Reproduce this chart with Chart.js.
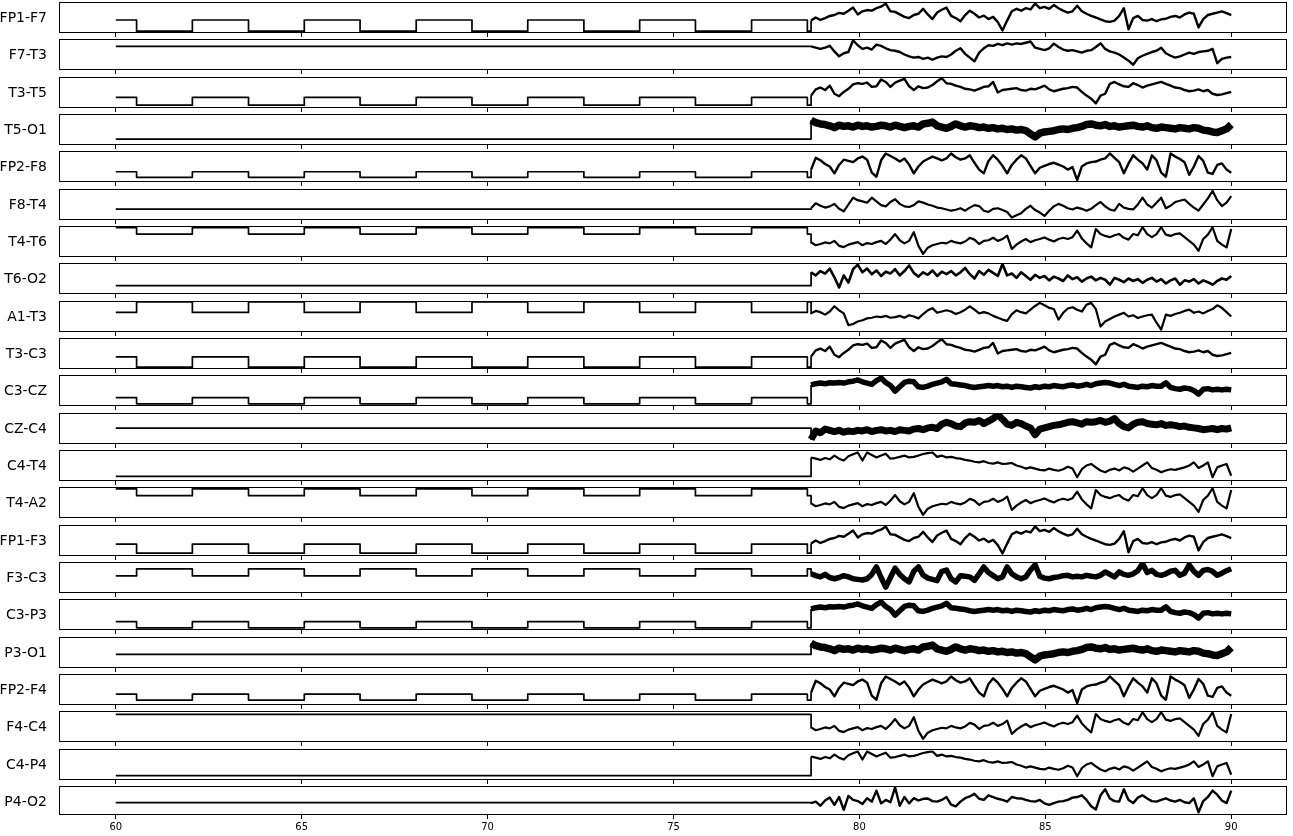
<!DOCTYPE html>
<html><head><meta charset="utf-8">
<script src="https://cdn.jsdelivr.net/npm/chart.js@4.4.0/dist/chart.umd.min.js"></script>
<style>
html,body{margin:0;padding:0;background:#fff;overflow:hidden;width:1293px;height:836px;}
#wrap{position:relative;width:1293px;height:836px;}
canvas{position:absolute;left:0;}
.lbl{position:absolute;left:-40px;width:87px;height:31px;line-height:31px;text-align:right;font-family:"DejaVu Sans";font-size:14px;color:#000;white-space:nowrap;}
</style></head><body><div id="wrap"></div>
<script>
// ---------------- data ----------------
const channelNames = ["FP1-F7","F7-T3","T3-T5","T5-O1","FP2-F8","F8-T4","T4-T6","T6-O2","A1-T3","T3-C3","C3-CZ","CZ-C4","C4-T4","T4-A2","FP1-F3","F3-C3","C3-P3","P3-O1","FP2-F4","F4-C4","C4-P4","P4-O2"];
const tickValues = [60,65,70,75,80,85,90];
const xRange = [58.5, 91.5];
// calibration square wave: switching times (s), level of first and alternate state (% of panel)
const calTimes = [60,60.56,62.06,63.57,65.07,66.57,68.08,69.58,71.08,72.59,74.09,75.59,77.1,78.6];
const calFirst  = [42,76,34,19,33,35,95,27,63,39,27,51,15,94,38,55,27,44,35,89,14,43];
const calSecond = [ 6,76, 9,19,15,35,74,27,97, 6, 7,51,15,72, 9,78, 7,44,16,89,14,43];
const eegStart = 78.7, eegEnd = 90.0;
// apparent trace thickness (px) of the dense EEG part of each channel
const traceWidth = [2.4,2.4,2.4,7.5,2.4,2.2,2.2,2.6,2.2,2.4,5.5,7,2.2,2.2,2.4,5.5,5.5,7.5,2.4,2.2,2.2,2.4];

const eeg_FP1_F7 = [40,50,42,48,55,58,65,62,72,82, 60,70,74,72,80,85,95,70,68,60, 52,48,58,62,78,60,45,66,75,82, 55,48,38,58,72,62,50,56,45,52, 35,8,40,70,78,72,80,76,95,80, 84,78,90,80,72,66,70,88,70,62, 55,50,44,38,36,40,55,80,12,48, 55,42,40,45,38,44,46,52,55,50, 60,66,62,18,45,58,62,66,70,64, 58];
const eeg_F7_T3 = [76,72,68,72,78,60,44,54,58,96, 80,68,72,66,82,78,70,64,62,58, 50,44,40,42,36,40,33,40,44,42, 50,62,70,52,40,28,56,70,80,78, 84,80,86,82,86,84,88,92,72,68, 64,70,85,74,66,62,64,60,56,62, 64,74,86,68,60,56,50,40,30,17, 38,46,52,58,62,72,54,46,40,44, 50,56,52,58,60,62,68,22,36,40, 42];
const eeg_T3_T5 = [40,60,66,58,72,46,38,52,62,76, 80,78,82,68,70,92,84,68,82,88, 94,70,58,70,64,66,74,86,96,80, 78,72,68,62,60,56,62,68,70,84, 50,58,60,62,64,58,56,62,60,66, 72,60,54,58,62,64,68,66,52,40, 30,15,40,46,78,84,76,70,68,80, 74,66,72,76,80,84,78,72,66,64, 58,54,56,60,54,58,46,42,44,48, 52];
const eeg_T5_O1 = [80,72,68,66,62,56,64,60,62,58, 64,60,62,58,60,64,62,58,64,60, 56,60,62,58,68,70,74,62,58,54, 60,68,62,58,62,60,56,58,54,56, 52,54,50,52,48,50,46,36,26,38, 42,44,46,50,52,50,54,56,60,66, 68,64,62,66,60,62,58,60,62,64, 60,58,62,56,54,58,56,54,52,56, 54,52,56,54,48,46,42,40,46,52, 66];
const eeg_FP2_F8 = [40,78,70,58,50,28,55,72,68,64, 76,82,72,30,17,70,92,84,76,66, 76,56,28,50,66,74,82,76,70,76, 92,80,72,76,86,62,40,28,68,86, 72,52,28,55,72,86,76,52,28,46, 52,58,62,56,50,40,48,6,50,60, 64,66,72,76,92,78,64,28,60,86, 72,60,40,86,70,30,17,92,82,74, 64,23,50,84,68,30,26,55,60,40, 30];
const eeg_F8_T4 = [38,54,46,40,44,52,36,28,50,72, 64,60,56,72,60,48,44,58,67,52, 44,42,48,60,56,50,46,40,38,34, 30,33,38,30,40,48,45,30,26,36, 38,32,26,8,15,22,36,46,32,24, 13,30,44,52,46,38,34,40,36,30, 36,48,58,44,34,30,52,40,36,34, 50,72,50,40,56,72,38,46,58,62, 66,52,40,30,50,70,94,64,45,56, 77];
const eeg_T4_T6 = [47,38,42,47,44,52,36,32,40,44, 48,38,45,42,48,52,42,56,74,54, 44,52,80,36,10,30,38,42,46,44, 52,47,44,50,62,56,42,52,54,62, 52,58,69,26,40,50,58,48,54,58, 63,56,50,58,62,58,64,85,60,44, 31,90,74,68,64,70,74,62,56,74, 70,96,74,64,74,96,72,68,74,76, 64,52,40,20,58,72,96,52,40,31, 90];
const eeg_T6_O2 = [70,60,74,66,82,54,21,60,37,80, 95,70,82,64,76,58,72,66,80,60, 74,92,68,56,70,62,76,58,72,64, 74,60,70,84,64,50,74,62,78,68, 58,97,60,66,52,70,58,46,62,52, 58,44,56,50,42,60,48,54,40,50, 56,44,52,46,30,52,46,38,50,42, 48,36,46,52,40,48,34,44,50,30, 44,40,48,34,44,38,30,42,50,46, 58];
const eeg_A1_T3 = [60,68,64,56,66,83,70,60,22,26, 34,38,44,46,50,48,52,46,48,52, 46,54,50,44,58,70,77,62,66,70, 66,58,64,72,83,72,60,64,60,52, 46,40,36,58,70,64,60,72,84,94, 86,78,74,40,62,76,80,72,66,88, 94,74,18,34,42,50,56,62,50,54, 45,50,54,56,30,8,56,52,58,62, 68,72,62,66,60,68,74,86,78,64, 50];
const eeg_C3_CZ = [68,72,74,72,75,74,76,74,78,80, 84,78,74,70,82,90,76,66,48,62, 76,80,78,62,60,64,70,74,78,86, 72,70,68,66,62,60,62,64,66,64, 66,62,64,60,64,62,60,58,62,60, 64,62,66,64,62,66,68,64,66,70, 66,72,74,76,74,70,66,70,64,62, 60,64,62,66,64,64,75,60,56,54, 58,56,50,38,54,56,52,54,52,54, 52];
const eeg_CZ_C4 = [15,42,36,48,44,40,44,38,42,40, 44,42,46,40,44,46,42,44,40,46, 44,42,48,50,46,52,54,50,64,70, 66,58,56,68,72,70,76,66,74,82, 94,80,64,60,70,66,58,52,30,48, 52,56,60,62,66,70,72,68,64,72, 70,72,76,70,74,82,66,56,52,64, 70,72,66,64,62,66,60,62,60,56, 58,54,52,50,46,48,50,46,50,48, 52];
const eeg_C4_T4 = [76,72,68,74,70,82,72,66,80,86, 92,66,92,84,76,82,88,72,74,78, 82,76,78,82,87,90,92,78,82,76, 78,74,72,68,66,62,60,64,58,56, 60,55,56,58,50,46,40,44,40,36, 34,40,36,33,38,46,40,12,38,50, 55,44,34,28,36,40,34,44,40,30, 40,50,60,42,36,28,34,38,36,40, 44,50,60,42,50,60,12,44,50,55, 17];
const eeg_F3_C3 = [62,56,52,60,50,46,50,56,52,46, 44,42,46,60,84,50,19,50,80,60, 46,36,70,84,58,48,44,40,70,74, 46,36,56,54,52,41,62,84,66,56, 46,52,84,62,52,46,52,74,91,54, 48,46,50,52,56,57,52,54,52,57, 54,52,57,68,60,52,68,60,57,62, 72,95,66,73,60,57,62,70,73,57, 64,91,70,57,73,76,70,57,64,72, 78];
const eeg_P4_O2 = [41,46,32,50,60,35,62,18,66,52, 48,38,58,46,84,40,52,44,95,32, 62,40,58,50,56,57,48,46,52,62, 36,30,46,58,64,73,56,52,68,62, 56,52,46,62,58,57,52,48,46,52, 40,35,41,46,48,52,60,62,68,52, 30,19,68,89,57,48,46,89,52,41, 60,68,57,48,46,52,57,50,46,52, 44,41,57,9,48,62,84,70,50,41, 84];
// channels whose traces look identical in the picture share one array
const channelEEG = [eeg_FP1_F7, eeg_F7_T3, eeg_T3_T5, eeg_T5_O1, eeg_FP2_F8, eeg_F8_T4, eeg_T4_T6, eeg_T6_O2,
  eeg_A1_T3, eeg_T3_T5, eeg_C3_CZ, eeg_CZ_C4, eeg_C4_T4, eeg_T4_T6, eeg_FP1_F7, eeg_F3_C3,
  eeg_C3_CZ, eeg_T5_O1, eeg_FP2_F8, eeg_T4_T6, eeg_C4_T4, eeg_P4_O2];

// ---------------- drawing ----------------
const wrap = document.getElementById('wrap');
const PANEL_TOP0 = 2, PANEL_PITCH = 37.33;
const boxPlugin = {
  id: 'box',
  afterDatasetsDraw(chart) {
    const {ctx, chartArea: a} = chart;
    ctx.save();
    ctx.strokeStyle = '#000';
    ctx.lineWidth = 1;
    ctx.strokeRect(Math.round(a.left) - 0.5, Math.round(a.top) + 0.5, Math.round(a.right - a.left), Math.round(a.bottom - a.top) - 1);
    ctx.restore();
  }
};

channelNames.forEach((name, i) => {
  const top = Math.round(PANEL_TOP0 + i * PANEL_PITCH);
  const last = i === channelNames.length - 1;
  const h = last ? 50 : 37;
  const cv = document.createElement('canvas');
  cv.width = 1293; cv.height = h;
  cv.style.top = (top - 1) + 'px';
  cv.style.width = '1293px'; cv.style.height = h + 'px';
  wrap.appendChild(cv);

  const lab = document.createElement('div');
  lab.className = 'lbl';
  lab.style.top = top + 'px';
  lab.textContent = name;
  wrap.appendChild(lab);

  const eeg = channelEEG[i];
  const calPts = [];
  for (let k = 0; k < calTimes.length; k++) {
    const lvl = (k % 2 === 0) ? calFirst[i] : calSecond[i];
    const t1 = (k + 1 < calTimes.length) ? calTimes[k + 1] : eegStart;
    calPts.push({x: calTimes[k], y: lvl});
    calPts.push({x: t1, y: lvl});
  }
  calPts.push({x: eegStart, y: eeg[0]});
  const dt = (eegEnd - eegStart) / (eeg.length - 1);
  const eegPts = eeg.map((v, j) => ({x: eegStart + j * dt, y: v}));

  new Chart(cv, {
    type: 'line',
    data: {datasets: [
      {data: calPts, borderColor: '#000', borderWidth: 1.7, pointRadius: 0, fill: false},
      {data: eegPts, borderColor: '#000', borderWidth: traceWidth[i], pointRadius: 0, fill: false}
    ]},
    options: {
      responsive: false, animation: false, devicePixelRatio: 1, parsing: false,
      layout: {autoPadding: false, padding: {left: 60, right: 6, top: 1, bottom: last ? 0 : 1}},
      scales: {
        x: {
          type: 'linear', min: xRange[0], max: xRange[1],
          afterBuildTicks: s => { s.ticks = tickValues.map(v => ({value: v})); },
          grid: {drawOnChartArea: false, drawTicks: true, tickLength: 4, color: '#000', lineWidth: 1},
          border: {display: false},
          ticks: {display: last, color: '#000', font: {family: 'DejaVu Sans', size: 10}, padding: 2, maxRotation: 0, autoSkip: false}
        },
        y: {display: false, min: 0, max: 100}
      },
      plugins: {legend: {display: false}, tooltip: {enabled: false}},
      elements: {line: {tension: 0, borderJoinStyle: 'round', borderCapStyle: 'butt'}}
    },
    plugins: [boxPlugin]
  });
});
</script>
</body></html>
